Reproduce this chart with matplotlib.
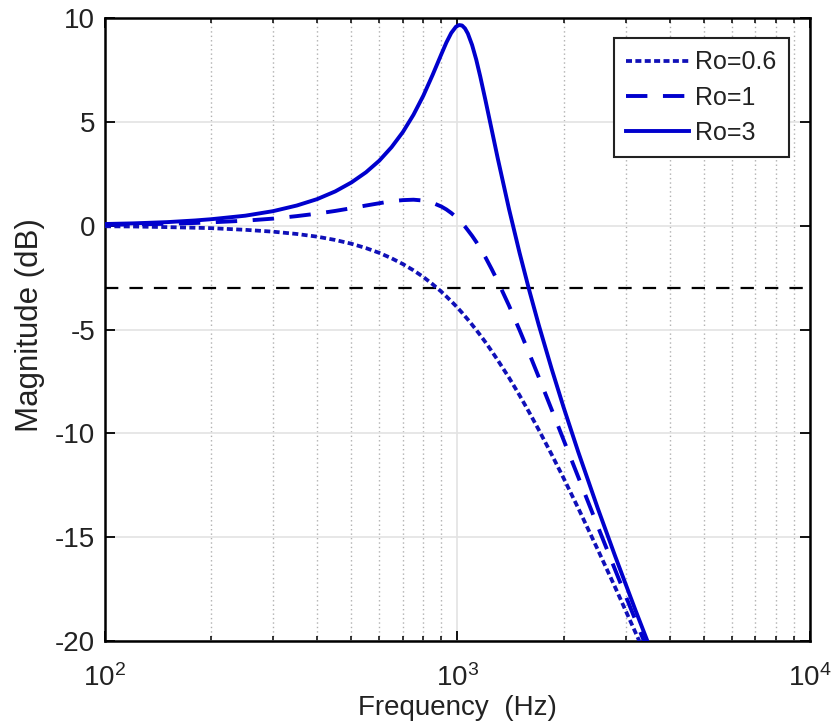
import numpy as np
import matplotlib
matplotlib.use("Agg")
import matplotlib.pyplot as plt
from matplotlib.ticker import LogLocator, NullFormatter

plt.rcParams['font.family'] = ['Liberation Sans', 'DejaVu Sans']
plt.rcParams['mathtext.fontset'] = 'custom'
plt.rcParams['mathtext.rm'] = 'Liberation Sans'
plt.rcParams['mathtext.it'] = 'Liberation Sans:italic'
plt.rcParams['mathtext.bf'] = 'Liberation Sans:bold'

# ---- data ----
freq_hz = [100, 120, 150, 180, 200, 250, 300, 350, 400, 450, 500, 550, 600, 650,
           700, 750, 800, 850, 900, 930, 960, 990, 1010, 1030, 1050, 1070, 1100,
           1130, 1160, 1200, 1250, 1300, 1400, 1500, 1600, 1700, 1850, 2000, 2200,
           2500, 2800, 3200, 3600, 4000]
mag_ro06 = [-0.03, -0.04, -0.07, -0.10, -0.12, -0.20, -0.29, -0.40, -0.53, -0.69,
            -0.87, -1.08, -1.31, -1.57, -1.85, -2.15, -2.47, -2.82, -3.18, -3.41,
            -3.64, -3.87, -4.03, -4.19, -4.36, -4.52, -4.77, -5.02, -5.27, -5.61,
            -6.04, -6.47, -7.32, -8.17, -9.01, -9.83, -11.02, -12.16, -13.60,
            -15.60, -17.41, -19.60, -21.55, -23.32]
mag_ro1 = [0.04, 0.06, 0.09, 0.13, 0.16, 0.24, 0.34, 0.46, 0.58, 0.71, 0.84, 0.97,
           1.08, 1.18, 1.23, 1.25, 1.21, 1.10, 0.92, 0.78, 0.61, 0.42, 0.28, 0.12,
           -0.04, -0.22, -0.49, -0.78, -1.09, -1.52, -2.09, -2.67, -3.85, -5.03,
           -6.18, -7.29, -8.86, -10.32, -12.10, -14.48, -16.57, -19.01, -21.14,
           -23.03]
mag_ro3 = [0.08, 0.11, 0.17, 0.25, 0.31, 0.48, 0.70, 0.97, 1.28, 1.65, 2.08, 2.57,
           3.13, 3.78, 4.51, 5.34, 6.26, 7.26, 8.26, 8.82, 9.28, 9.58, 9.66, 9.64,
           9.50, 9.25, 8.70, 8.00, 7.19, 6.05, 4.63, 3.26, 0.80, -1.31, -3.15,
           -4.78, -6.90, -8.75, -10.89, -13.61, -15.91, -18.53, -20.77, -22.74]
labels = ['Ro=0.6', 'Ro=1', 'Ro=3']
ref_level_db = -3
y_ticks = [-20, -15, -10, -5, 0, 5, 10]

blue = '#0000CD'

fig = plt.figure(figsize=(8.37, 7.26), dpi=100)
ax = fig.add_axes([105/837, 1 - 641/726, 705/837, 623/726])

ax.set_xscale('log')
ax.set_xlim(100, 10000)
ax.set_ylim(-20, 10)
ax.set_yticks(y_ticks)
ax.set_yticklabels([str(v) for v in y_ticks])
ax.xaxis.set_major_locator(LogLocator(base=10, numticks=10))
ax.xaxis.set_minor_locator(LogLocator(base=10, subs=np.arange(2, 10), numticks=100))
ax.xaxis.set_minor_formatter(NullFormatter())

# grid
ax.grid(True, which='major', axis='both', color='#e3e3e3', lw=1.2, ls='-', zorder=0)
ax.grid(True, which='minor', axis='x', color='#b0b0b0', lw=1.0, ls=(0, (1, 2.2)), zorder=0)
ax.set_axisbelow(True)

ax.axhline(ref_level_db, color='black', lw=1.6, dashes=(6, 5), zorder=2)

ax.plot(freq_hz, mag_ro06, color='#1010B8', lw=2.7, ls=(0, (1.6, 0.9)), label=labels[0], zorder=3)
ax.plot(freq_hz, mag_ro1, color=blue, lw=2.8, ls=(0, (5.5, 4)), label=labels[1], zorder=3)
ax.plot(freq_hz, mag_ro3, color=blue, lw=2.8, ls='-', label=labels[2], zorder=3)

for s in ax.spines.values():
    s.set_linewidth(1.8)
    s.set_color('black')

ax.tick_params(which='both', direction='in', top=True, right=True, colors='black',
               labelcolor='#222222')
ax.tick_params(which='major', length=7, width=1.3, labelsize=20)
ax.tick_params(which='minor', length=3.8, width=1.1)
ax.tick_params(axis='x', which='major', pad=17)
ax.tick_params(axis='y', which='major', pad=7)

ax.set_xlabel('Frequency  (Hz)', fontsize=20, color='#222222', va='top')
ax.xaxis.set_label_coords(0.5, -0.086)
ax.set_ylabel('Magnitude (dB)', fontsize=22.5, color='#222222', va='center')
ax.yaxis.set_label_coords(-0.106, 0.507)

leg = ax.legend(loc='upper right', bbox_to_anchor=(0.970, 0.968), borderaxespad=0,
                fontsize=18, handlelength=2.5, handletextpad=0.25, borderpad=0.5,
                labelspacing=0.45, frameon=True, fancybox=False, framealpha=1,
                edgecolor='#222222')
leg.get_frame().set_linewidth(1.5)
for t in leg.get_texts():
    t.set_color('#222222')

fig.savefig('out.png', dpi=100)
